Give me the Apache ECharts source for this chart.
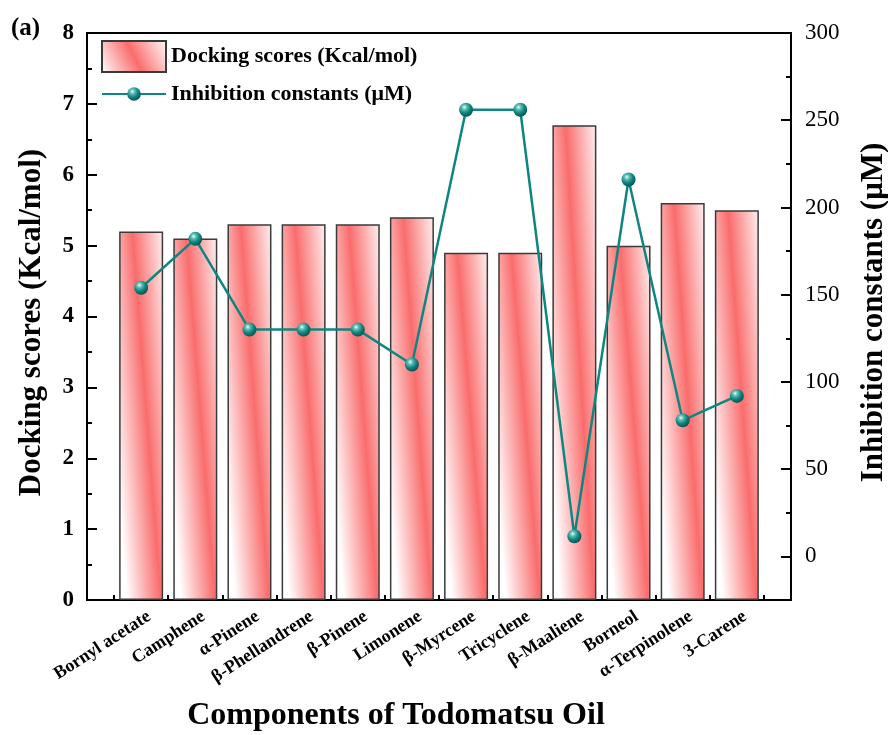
<!DOCTYPE html>
<html><head><meta charset="utf-8">
<script src="https://cdn.jsdelivr.net/npm/echarts@6/dist/echarts.min.js"></script>
<style>html,body{margin:0;padding:0;background:#fff}#c{width:888px;height:735px}</style>
</head><body><div id="c"></div>
<script>
const categories = ['Bornyl acetate','Camphene','α-Pinene','β-Phellandrene','β-Pinene','Limonene','β-Myrcene','Tricyclene','β-Maaliene','Borneol','α-Terpinolene','3-Carene'];
const dockingScores = [5.2, 5.1, 5.3, 5.3, 5.3, 5.4, 4.9, 4.9, 6.7, 5.0, 5.6, 5.5];
const inhibitionConstants = [154, 182, 130, 130, 130, 110, 256, 256, 11.5, 216, 78, 92];
const leftTicks = [0,1,2,3,4,5,6,7,8];
const rightTicks = [0,50,100,150,200,250,300];
const rightMinorTicks = [25,75,125,175,225,275];

const FONT = '"Liberation Serif", "DejaVu Serif", serif';
const RED = '#fa6c6c';
const TEAL = '#0f8580';
const PLOT_H = 567, BAR_W = 44, LEFT_MAX = 8;

function barGradient(v) {
  const w = BAR_W, h = v / LEFT_MAX * PLOT_H;
  const a = 0.3, b = 0.95;
  const dx = w * (b - a), L = Math.hypot(dx, h);
  const nx = h / L, ny = -dx / L;
  const d = 34 * h / L;
  const cx = a * w, cy = 0;
  return new echarts.graphic.LinearGradient(
    (cx - d * nx) / w, (cy - d * ny) / h, (cx + d * nx) / w, (cy + d * ny) / h,
    [{offset: 0, color: '#ffffff'}, {offset: 0.5, color: RED}, {offset: 1, color: '#ffffff'}]);
}

const chart = echarts.init(document.getElementById('c'), null, {renderer: 'canvas'});
const bold = {fontFamily: FONT, fontWeight: 'bold', color: '#000'};
chart.setOption({
  animation: false,
  title: {text: '(a)', left: 11, top: 16, padding: 0, textStyle: Object.assign({fontSize: 25}, bold)},
  grid: {left: 87, right: 97, top: 33, bottom: 135, outerBoundsMode: 'none', containLabel: false,
         show: true, borderColor: '#000', borderWidth: 2, backgroundColor: 'transparent'},
  legend: [
    {data: [{name: 'Docking scores (Kcal/mol)', icon: 'rect'}], left: 101, top: 40, padding: 0, itemWidth: 64, itemHeight: 31,
     textStyle: Object.assign({fontSize: 22}, bold)},
    {data: ['Inhibition constants (μM)'], left: 101, top: 83, padding: 0, itemWidth: 64, itemHeight: 17,
     textStyle: Object.assign({fontSize: 22}, bold)}
  ],
  xAxis: {
    type: 'value', min: 0, max: 13, interval: 1,
    name: 'Components of Todomatsu Oil', nameLocation: 'middle', nameGap: 100,
    nameTextStyle: Object.assign({fontSize: 32, padding: [0, 86, 0, 0]}, bold),
    axisLine: {show: true, lineStyle: {color: '#000', width: 2}},
    axisTick: {show: true, inside: true, length: 5, lineStyle: {color: '#000', width: 2},
               customValues: categories.map((c, i) => i + 0.5).concat([categories.length + 0.5])},
    axisLabel: {rotate: 33, margin: 15, fontSize: 18, fontFamily: FONT, fontWeight: 'bold', color: '#000',
                customValues: categories.map((c, i) => i + 1.15),
                formatter: v => categories[Math.round(v) - 1] || ''},
    splitLine: {show: false}
  },
  yAxis: [
    {type: 'value', min: 0, max: 8, interval: 1, position: 'left',
     name: 'Docking scores (Kcal/mol)', nameLocation: 'middle', nameGap: 40, nameRotate: 90,
     nameTextStyle: Object.assign({fontSize: 31, padding: [0, 12, 0, 0]}, bold),
     axisLine: {show: true, lineStyle: {color: '#000', width: 2}},
     axisTick: {show: true, inside: true, length: 10, lineStyle: {color: '#000', width: 2}},
     minorTick: {show: true, splitNumber: 2, length: 5, lineStyle: {color: '#000', width: 2}},
     axisLabel: {fontSize: 23, margin: 13, fontFamily: FONT, fontWeight: 'bold', color: '#000', customValues: leftTicks},
     splitLine: {show: false}},
    {type: 'value', min: -25, max: 300, interval: 25, position: 'right',
     name: 'Inhibition constants (μM)', nameLocation: 'middle', nameGap: 67, nameRotate: 90,
     nameTextStyle: Object.assign({fontSize: 31, padding: [0, 0, 0, 8]}, bold),
     axisLine: {show: true, lineStyle: {color: '#000', width: 2}},
     axisTick: {show: true, inside: true, length: 10, lineStyle: {color: '#000', width: 2}, customValues: rightTicks},
     axisLabel: {fontSize: 23, margin: 14, fontFamily: FONT, color: '#000', customValues: rightTicks},
     splitLine: {show: false}},
    {type: 'value', min: -25, max: 300, interval: 25, position: 'right',
     axisLine: {show: false},
     axisTick: {show: true, inside: true, length: 5, lineStyle: {color: '#000', width: 2}, customValues: rightMinorTicks},
     axisLabel: {show: false},
     splitLine: {show: false}}
  ],
  series: [
    {name: 'Docking scores (Kcal/mol)', type: 'bar', xAxisIndex: 0, yAxisIndex: 0, barWidth: BAR_W,
     itemStyle: {
       color: new echarts.graphic.LinearGradient(0, 1, 1, 0, [{offset: 0, color: '#ffffff'}, {offset: 0.5, color: RED}, {offset: 1, color: '#ffffff'}]),
       borderColor: '#3a3a3a', borderWidth: 1.5},
     data: dockingScores.map((v, i) => ({value: [i + 1, v], itemStyle: {color: barGradient(v)}}))},
    {name: 'Inhibition constants (μM)', type: 'line', xAxisIndex: 0, yAxisIndex: 1, z: 5,
     symbol: 'circle', symbolSize: 14,
     lineStyle: {color: TEAL, width: 2.5},
     itemStyle: {color: new echarts.graphic.RadialGradient(0.38, 0.32, 0.7, [
       {offset: 0, color: '#e8fffc'}, {offset: 0.25, color: '#5fbdb5'}, {offset: 0.6, color: '#0f8580'}, {offset: 1, color: '#04524e'}])},
     data: inhibitionConstants.map((v, i) => [i + 1, v])}
  ]
});
</script></body></html>
